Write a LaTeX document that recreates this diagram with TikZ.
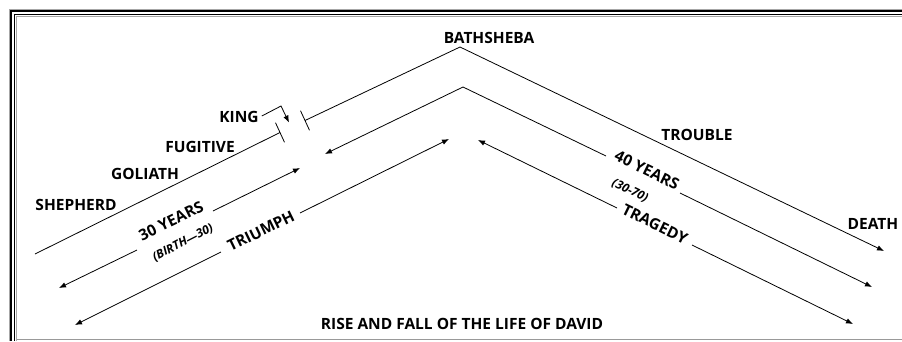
\documentclass[tikz,border=0pt]{standalone}
\usepackage{fontspec}
\setmainfont{Open Sans}
\usetikzlibrary{arrows.meta,calc}
\begin{document}
\begin{tikzpicture}[x=1pt,y=-1pt,
  lbl/.style={font=\fontsize{15.5}{17}\selectfont\bfseries, inner sep=0pt},
  sublbl/.style={font=\fontsize{12}{14}\selectfont\bfseries\itshape, inner sep=0pt},
  ln/.style={line width=0.8pt, black},
  arr/.style={ln, -{Latex[length=7pt,width=5.5pt]}},
  brk/.style={line width=0.8pt}]
\useasboundingbox (0,0) rectangle (902,341);
\fill[white] (0,0) rectangle (902,341);
% frame
\draw[gray!70, line width=0.8pt] (9,341) -- (9,9) -- (902,9);
\draw[black, line width=2.4pt] (11,341) -- (11,11) -- (902,11);
\draw[black, line width=1.3pt] (14.3,341) -- (14.3,14.3) -- (902,14.3);
\draw[gray!70, line width=1pt] (16.2,341) -- (16.2,16.2) -- (902,16.2);
\draw[gray!80, line width=1pt] (17,339.5) -- (902,339.5);

% coordinates
\coordinate (L1a) at (35,254);
\coordinate (L1b) at (280,132.5);
\coordinate (L1c) at (305,120.5);
\coordinate (A1) at (460,47);
\coordinate (D1) at (884,251);

\coordinate (A2) at (463,87);
\coordinate (L2l) at (325,154);
\coordinate (R2a) at (606,156);
\coordinate (R2b) at (680,193);
\coordinate (R2e) at (872,287);

\coordinate (L3a) at (59,288);
\coordinate (L3b) at (137,250);
\coordinate (L3c) at (213,211);
\coordinate (L3d) at (300,168);

\coordinate (L4a) at (75,325);
\coordinate (L4b) at (221,252);
\coordinate (L4c) at (300,213);
\coordinate (L4d) at (449,139);

\coordinate (R3a) at (478,140);
\coordinate (R3b) at (617,208);
\coordinate (R3c) at (692,245);
\coordinate (R3d) at (853,324);

% outer line with break
\draw[ln] (L1a) -- (L1b);
\draw[brk] ($(L1b)+(-4.5,-9.8)$) -- ($(L1b)+(4.5,9.8)$);
\draw[brk] ($(L1c)+(-4.5,-9.8)$) -- ($(L1c)+(4.5,9.8)$);
\draw[arr] (L1c) -- (A1) -- (D1);

% second line
\draw[arr] (A2) -- (L2l);
\draw[ln] (A2) -- (R2a);
\draw[arr] (R2b) -- (R2e);

% lower-left double arrows
\draw[arr] (L3b) -- (L3a);
\draw[arr] (L3c) -- (L3d);
\draw[arr] (L4b) -- (L4a);
\draw[arr] (L4c) -- (L4d);
% lower-right
\draw[arr] (R3b) -- (R3a);
\draw[arr] (R3c) -- (R3d);

% labels
\node[lbl] (bath) at (489,38) {BATHSHEBA};
\node[lbl] (king) at (239,117) {KING};
\node[lbl] (fug) at (200,147) {FUGITIVE};
\node[lbl] (gol) at (145,174) {GOLIATH};
\node[lbl] (shep) at (76,205) {SHEPHERD};
\node[lbl] (trou) at (697,135) {TROUBLE};
\node[lbl] (death) at (873,224) {DEATH};
\node[lbl] (title) at (462,324) {RISE AND FALL OF THE LIFE OF DAVID};

\node[lbl, rotate=26] (y30) at (171,221) {30 YEARS};
\node[sublbl, rotate=27] (b30) at (183,243) {(BIRTH—30)};
\node[lbl, rotate=26] (tri) at (261,231) {TRIUMPH};
\node[lbl, rotate=-26] (y40) at (647,170) {40 YEARS};
\node[sublbl, rotate=-26] (b40) at (630,191) {(30-70)};
\node[lbl, rotate=-26] (trag) at (655,224) {TRAGEDY};

% king callout
\coordinate (kbend) at (281,106);
\coordinate (ktip) at (289,122.5);
\draw[arr] ($(king.east)+(3,-1)$) -- (kbend) -- (ktip);
\end{tikzpicture}
\end{document}
